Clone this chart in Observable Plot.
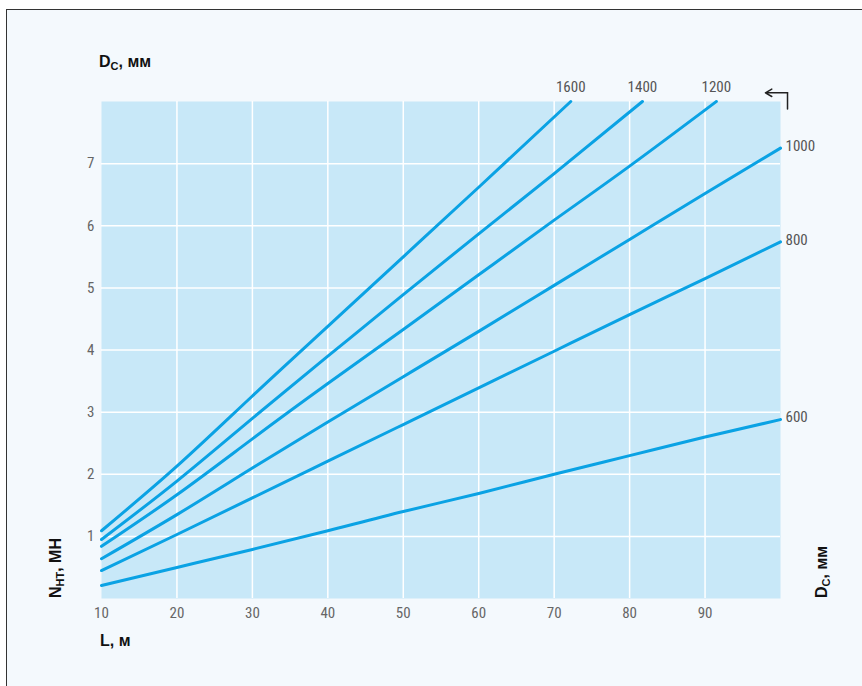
<!DOCTYPE html>
<html><head><meta charset="utf-8">
<script src="https://cdn.jsdelivr.net/npm/d3@7"></script>
<script src="https://cdn.jsdelivr.net/npm/@observablehq/plot@0.6"></script>
<style>
body{margin:0;background:#fff;}
#wrap{position:relative;width:862px;height:686px;overflow:hidden;}
#frame{position:absolute;left:6px;top:9px;width:900px;height:700px;border-left:1.5px solid #333;border-top:1.5px solid #333;background:#f4f9fd;}
#chart{position:absolute;left:0;top:0;}
</style></head><body><div id="wrap"><div id="frame"></div><div id="chart"></div></div>
<script>
// Diameters (mm)
const diameters = [600, 800, 1000, 1200, 1400, 1600];
// Length L (m) per series
const L600  = [10,20,30,40,50,60,70,80,90,100];
const L800  = [10,20,30,40,50,60,70,80,90,100];
const L1000 = [10,20,30,40,50,60,70,80,90,100];
const L1200 = [10,20,30,40,50,60,70,80,91.5];
const L1400 = [10,20,30,40,50,60,70,81.7];
const L1600 = [10,20,30,40,50,60,72.2];
// Force N (MN) per series
const N600  = [0.21,0.50,0.79,1.09,1.40,1.69,2.00,2.30,2.60,2.88];
const N800  = [0.45,1.03,1.62,2.21,2.80,3.39,3.98,4.57,5.15,5.74];
const N1000 = [0.64,1.35,2.10,2.84,3.57,4.30,5.04,5.78,6.52,7.25];
const N1200 = [0.84,1.67,2.57,3.46,4.33,5.21,6.09,6.96,8.00];
const N1400 = [0.95,1.89,2.90,3.90,4.89,5.87,6.84,8.00];
const N1600 = [1.09,2.13,3.26,4.38,5.50,6.62,8.00];
const xTicks = [10,20,30,40,50,60,70,80,90];
const yTicks = [1,2,3,4,5,6,7];
// bent arrow annotation (data coords)
const arrowL = [100.93, 100.93, 98.0];
const arrowN = [7.88, 8.14, 8.14];

const Ls = [L600,L800,L1000,L1200,L1400,L1600];
const Ns = [N600,N800,N1000,N1200,N1400,N1600];
const rows = [];
diameters.forEach((d,i)=>Ls[i].forEach((l,j)=>rows.push({D:d,L:l,N:Ns[i][j]})));
const ends = diameters.map((d,i)=>({D:d,L:Ls[i][Ls[i].length-1],N:Ns[i][Ns[i].length-1]}));
const topEnds = ends.filter(e=>e.N>=8);
const rightEnds = ends.filter(e=>e.N<8);
const arrowPts = arrowL.map((l,i)=>({L:l,N:arrowN[i]}));

const tickFont = "'Liberation Sans Narrow','Roboto Condensed','DejaVu Sans Condensed',sans-serif";
const blue = "#0aa2e4";

const plot = Plot.plot({
  width:862, height:686,
  marginLeft:101, marginRight:82, marginTop:101, marginBottom:88,
  x:{domain:[10,100], label:null},
  y:{domain:[0,8], label:null},
  style:{background:"transparent", fontFamily:tickFont, fontSize:"15px", color:"#666"},
  marks:[
    Plot.frame({fill:"#c8e8f8", stroke:null}),
    Plot.gridX(xTicks.slice(1), {stroke:"white", strokeOpacity:1, strokeWidth:1.5}),
    Plot.gridY(yTicks, {stroke:"white", strokeOpacity:1, strokeWidth:1.5}),
    Plot.line(rows, {x:"L", y:"N", z:"D", stroke:blue, strokeWidth:3, curve:"natural"}),
    Plot.axisX(xTicks, {tickSize:0, tickPadding:9, fontSize:15, fill:"#666", fontFamily:tickFont, tickFormat:d=>String(d)}),
    Plot.axisY(yTicks, {tickSize:0, tickPadding:7, fontSize:15, fill:"#666", fontFamily:tickFont, tickFormat:d=>String(d)}),
    Plot.text(topEnds, {x:"L", y:"N", text:d=>String(d.D), dy:-14, fontSize:15, fill:"#555", fontFamily:tickFont}),
    Plot.text(rightEnds, {x:"L", y:"N", text:d=>String(d.D), dx:5, dy:-2, textAnchor:"start", fontSize:15, fill:"#555", fontFamily:tickFont}),
    Plot.line(arrowPts.slice(0,2), {x:"L", y:"N", stroke:"#222", strokeWidth:1.5}),
    Plot.arrow([{x1:arrowL[1], y1:arrowN[1], x2:arrowL[2], y2:arrowN[2]}], {x1:"x1", y1:"y1", x2:"x2", y2:"y2", stroke:"#222", strokeWidth:1.5, headLength:9, bend:0})
  ]
});
document.getElementById("chart").appendChild(plot);

// axis titles
const svg = d3.select(plot);
const titleFont = "'Liberation Sans', Arial, sans-serif";
function styleTitle(sel){
  return sel.attr("text-anchor","start").style("text-anchor","start")
    .style("font-family",titleFont).style("font-weight","bold").style("font-size","16px").style("fill","#111");
}
function dc(sel){
  sel.append("tspan").text("D");
  sel.append("tspan").style("font-size","11px").attr("dy",3).text("C");
  sel.append("tspan").attr("dy",-3).text(", мм");
}
const t1 = styleTitle(svg.append("text").attr("x",99).attr("y",67));
dc(t1);
const t2 = styleTitle(svg.append("text").attr("transform","translate(827,598) rotate(-90)"));
dc(t2);
const t3 = styleTitle(svg.append("text").attr("transform","translate(61,598) rotate(-90)"));
t3.append("tspan").text("N");
t3.append("tspan").style("font-size","11px").attr("dy",3).text("НТ");
t3.append("tspan").attr("dy",-3).text(", МН");
styleTitle(svg.append("text").attr("x",100).attr("y",646)).text("L, м");
</script>
</body></html>
